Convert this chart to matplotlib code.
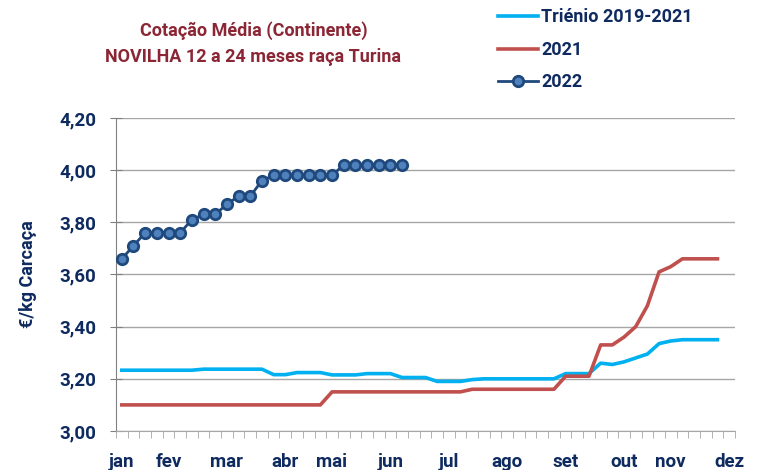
import numpy as np
import matplotlib.pyplot as plt

plt.rcParams['font.family'] = ['Roboto', 'DejaVu Sans']

# semanas 1..52
semanas = np.arange(1, 53)

trienio = ([3.233] * 7 + [3.237] * 6 + [3.216] * 2 + [3.224] * 3 + [3.215] * 3
           + [3.220] * 3 + [3.205] * 3 + [3.19] * 3 + [3.197] + [3.20] * 7
           + [3.22] * 3 + [3.26, 3.255, 3.265, 3.28, 3.295, 3.335, 3.345]
           + [3.35] * 4)
ano2021 = ([3.10] * 18 + [3.15] * 12 + [3.16] * 8 + [3.21] * 3
           + [3.33, 3.33, 3.36, 3.40, 3.48, 3.61, 3.63] + [3.66] * 4)
ano2022 = [3.66, 3.71, 3.76, 3.76, 3.76, 3.76, 3.81, 3.83, 3.83, 3.87, 3.90, 3.90,
           3.96, 3.98, 3.98, 3.98, 3.98, 3.98, 3.98, 4.02, 4.02, 4.02, 4.02, 4.02, 4.02]

meses = ["jan", "fev", "mar", "abr", "mai", "jun", "jul", "ago", "set", "out", "nov", "dez"]
meses_pos = [1, 5, 10, 15, 19, 24, 29, 34, 39, 44, 48, 53]

navy = "#0E2A5E"

fig = plt.figure(figsize=(7.61, 4.70), dpi=100)
ax = fig.add_axes([0.1524, 0.083, 0.8134, 0.666])

ax.plot(semanas, trienio, color="#00B0F0", lw=2.6, label="Triénio 2019-2021", zorder=3)
ax.plot(semanas[:len(ano2021)], ano2021, color="#C0504D", lw=2.6, label="2021", zorder=3)
ax.plot(semanas[:len(ano2022)], ano2022, color="#1F497D", lw=2.0, marker="o",
        markersize=7.5, markerfacecolor="#4F81BD", markeredgecolor="#1F497D",
        markeredgewidth=2.0, label="2022", zorder=4)

ax.set_xlim(0.5, 53.5)
ax.set_ylim(3.0, 4.2)
ax.set_yticks(np.arange(3.0, 4.21, 0.2))
ax.set_yticklabels([f"{v:.2f}".replace(".", ",") for v in np.arange(3.0, 4.21, 0.2)])
ax.grid(axis="y", color="#A6A6A6", lw=1.0, zorder=0)

ax.set_xticks(meses_pos, meses)
ax.set_xticks(np.arange(0.5, 54, 1), minor=True)
ax.tick_params(axis="x", which="major", length=0, pad=16)
ax.tick_params(axis="x", which="minor", length=5, color="#A6A6A6", direction="out")
ax.tick_params(axis="y", length=8, direction="inout", color="#808080", pad=10)
for lab in ax.get_xticklabels() + ax.get_yticklabels():
    lab.set_fontsize(13.5)
    lab.set_fontweight("bold")
    lab.set_color(navy)

for s in ["top", "right"]:
    ax.spines[s].set_visible(False)
ax.spines["left"].set_color("#808080")
ax.spines["bottom"].set_color("#A6A6A6")

ax.set_ylabel("€/kg Carcaça", fontsize=13, fontweight="bold", color=navy, labelpad=16)

fig.text(0.333, 0.955, "Cotação Média (Continente)\nNOVILHA 12 a 24 meses raça Turina",
         ha="center", va="top", fontsize=13, fontweight="bold", color="#8B2635",
         linespacing=1.55)

leg = ax.legend(loc="upper left", bbox_to_anchor=(0.617, 1.35), frameon=False,
                fontsize=13, handlelength=2.2, handletextpad=0.2, labelspacing=0.8,
                borderaxespad=0, borderpad=0)
for t in leg.get_texts():
    t.set_fontweight("bold")
    t.set_color(navy)

fig.savefig("out.png", dpi=100)
